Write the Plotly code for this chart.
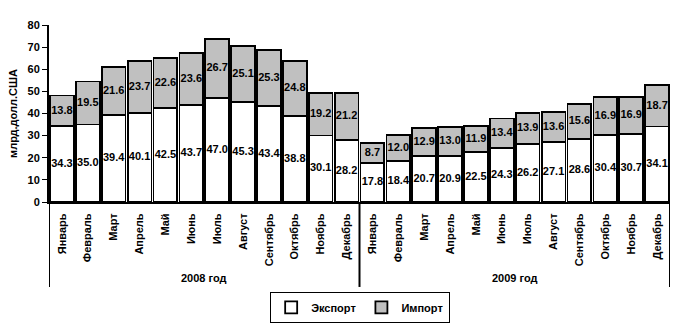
import plotly.graph_objects as go

months = ["Январь", "Февраль", "Март", "Апрель", "Май", "Июнь",
          "Июль", "Август", "Сентябрь", "Октябрь", "Ноябрь", "Декабрь"]
years = ["2008 год", "2009 год"]

export_2008 = [34.3, 35.0, 39.4, 40.1, 42.5, 43.7, 47.0, 45.3, 43.4, 38.8, 30.1, 28.2]
import_2008 = [13.8, 19.5, 21.6, 23.7, 22.6, 23.6, 26.7, 25.1, 25.3, 24.8, 19.2, 21.2]
export_2009 = [17.8, 18.4, 20.7, 20.9, 22.5, 24.3, 26.2, 27.1, 28.6, 30.4, 30.7, 34.1]
import_2009 = [8.7, 12.0, 12.9, 13.0, 11.9, 13.4, 13.9, 13.6, 15.6, 16.9, 16.9, 18.7]

y_ticks = [0, 10, 20, 30, 40, 50, 60, 70, 80]

export_vals = export_2008 + export_2009
import_vals = import_2008 + import_2009
labels = months + months
x = list(range(len(labels)))

FONT = "Liberation Sans, Arial, sans-serif"
lbl_font = dict(family=FONT, size=11, color="black", weight="bold")

fig = go.Figure()
fig.add_trace(go.Bar(
    x=x, y=export_vals, name="Экспорт",
    marker=dict(color="white", line=dict(color="black", width=1.8)),
))
fig.add_trace(go.Bar(
    x=x, y=import_vals, name="Импорт",
    marker=dict(color="#C0C0C0", line=dict(color="black", width=1.8)),
))

# value labels centred in each stacked segment
fig.add_trace(go.Scatter(
    x=x + x,
    y=[e / 2 for e in export_vals] + [e + i / 2 for e, i in zip(export_vals, import_vals)],
    text=[f"{v:.1f}" for v in export_vals] + [f"{v:.1f}" for v in import_vals],
    mode="text", textfont=lbl_font, showlegend=False, hoverinfo="skip",
    cliponaxis=False,
))

# year group separators below the category axis
n = len(months)
for xb in [-0.5, n - 0.5, 2 * n - 0.5]:
    fig.add_shape(type="line", xref="x", yref="paper", x0=xb, x1=xb, y0=0, y1=-0.48,
                  line=dict(color="black", width=2))
for k, yr in enumerate(years):
    fig.add_annotation(x=k * n + (n - 1) / 2, y=-0.43, xref="x", yref="paper",
                       text=yr, showarrow=False, font=lbl_font, yanchor="middle")

fig.update_layout(
    barmode="stack",
    bargap=0.08,
    width=677, height=331,
    margin=dict(l=49, r=7, t=25, b=129),
    paper_bgcolor="white", plot_bgcolor="white",
    font=dict(family=FONT, size=11, color="black"),
    legend=dict(orientation="h", xref="container", yref="container",
                x=0.532, xanchor="center", y=0.118, yanchor="top",
                bordercolor="black", borderwidth=1, font=lbl_font,
                itemwidth=30, tracegroupgap=0, traceorder="normal"),
    showlegend=True,
)
fig.update_xaxes(
    range=[-0.5, 2 * n - 0.5], tickmode="array", tickvals=x, ticktext=labels,
    tickangle=-90, ticks="", showline=True, linecolor="black", linewidth=2,
    showgrid=False, zeroline=False, tickfont=lbl_font, ticklabelstandoff=5,
    automargin=False,
)
fig.update_yaxes(
    range=[0, 80], tickmode="array", tickvals=y_ticks, ticks="outside", ticklen=5,
    tickwidth=1, tickcolor="black", showline=True, linecolor="black", linewidth=2,
    showgrid=False, zeroline=False, tickfont=lbl_font, automargin=False,
    title=dict(text="млрд.долл.США", font=lbl_font, standoff=8),
)

fig.write_html("out.html")
